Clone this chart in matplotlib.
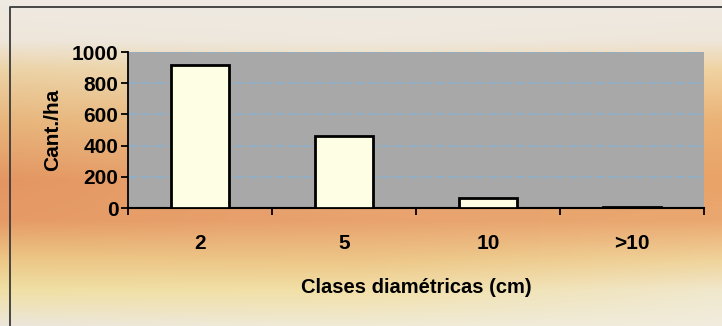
import numpy as np
import matplotlib
matplotlib.use("Agg")
import matplotlib.pyplot as plt
from matplotlib.lines import Line2D

# --- datos ---
clases = ["2", "5", "10", ">10"]
cantidad = [915, 460, 65, 8]
y_ticks = [0, 200, 400, 600, 800, 1000]

plt.rcParams['font.family'] = ['Liberation Sans', 'DejaVu Sans']
plt.rcParams['font.weight'] = 'bold'

W, H = 722, 326
fig = plt.figure(figsize=(W / 100, H / 100), dpi=100)

# --- fondo degradado ---
# perfiles verticales de color (fila en px desde arriba -> RGB)
filas = [0, 40, 70, 120, 180, 220, 260, 290, 326]
izq = [(238, 234, 226), (238, 230, 218), (236, 210, 165), (232, 182, 125),
       (228, 150, 98), (230, 155, 102), (236, 200, 135), (240, 224, 165),
       (236, 230, 220)]
centro = [(238, 234, 226), (238, 232, 222), (237, 218, 180), (235, 195, 140),
          (233, 168, 112), (232, 162, 110), (237, 198, 135), (242, 224, 168),
          (240, 235, 215)]
der = [(238, 234, 226), (238, 230, 218), (240, 210, 160), (235, 178, 118),
       (233, 162, 104), (234, 168, 112), (240, 212, 155), (240, 232, 205),
       (240, 236, 222)]


def perfil(cols):
    cols = np.array(cols, float) / 255
    ys = np.arange(H)
    return np.stack([np.interp(ys, filas, cols[:, c]) for c in range(3)], axis=1)


p_izq, p_cen, p_der = perfil(izq), perfil(centro), perfil(der)
fx = np.linspace(0, 1, W)
a_izq = np.clip(1 - fx / 0.5, 0, 1)
a_der = np.clip((fx - 0.5) / 0.5, 0, 1)
a_cen = 1 - a_izq - a_der
img = (p_izq[:, None, :] * a_izq[None, :, None]
       + p_cen[:, None, :] * a_cen[None, :, None]
       + p_der[:, None, :] * a_der[None, :, None])

bg = fig.add_axes([0, 0, 1, 1], zorder=0)
bg.imshow(img, aspect='auto', extent=[0, 1, 0, 1], interpolation='bilinear')
bg.set_axis_off()

# marco exterior (solo izquierda y arriba son visibles)
fig.lines.append(Line2D([10 / W, 10 / W, 1], [0, 1 - 7 / H, 1 - 7 / H],
                        transform=fig.transFigure, color='#3a3a3a',
                        linewidth=1.3, zorder=1))

ax = fig.add_axes([128 / W, 118 / H, 576 / W, 156 / H], zorder=2)
ax.set_facecolor('#a8a8a8')

x = np.arange(len(clases))
ax.bar(x, cantidad, width=0.4, color='#fefee4', edgecolor='black',
       linewidth=2, zorder=3)

ax.set_xlim(-0.5, len(clases) - 0.5)
ax.set_ylim(0, 1000)
ax.set_yticks(y_ticks)
ax.set_yticklabels([str(v) for v in y_ticks])
ax.set_xticks(x)
ax.set_xticklabels(clases)
ax.set_xticks(np.arange(-0.5, len(clases)), minor=True)

ax.yaxis.grid(True, color='#8eb0cc', linewidth=1.2, linestyle=(0, (6, 2)), zorder=1)
ax.set_axisbelow(True)

for s in ['top', 'right']:
    ax.spines[s].set_visible(False)
ax.spines['left'].set_linewidth(1.3)
ax.spines['bottom'].set_linewidth(1.5)

ax.tick_params(axis='y', direction='out', length=5, width=1.3,
               labelsize=15, pad=2)
ax.tick_params(axis='x', which='major', length=0, labelsize=15, pad=19)
ax.tick_params(axis='x', which='minor', direction='out', length=5, width=1.3)

ax.set_ylabel('Cant./ha', fontsize=15, fontweight='bold', labelpad=7)
ax.set_xlabel('Clases diamétricas (cm)', fontsize=14.5, fontweight='bold',
              labelpad=18)

fig.savefig('out.png', dpi=100)
